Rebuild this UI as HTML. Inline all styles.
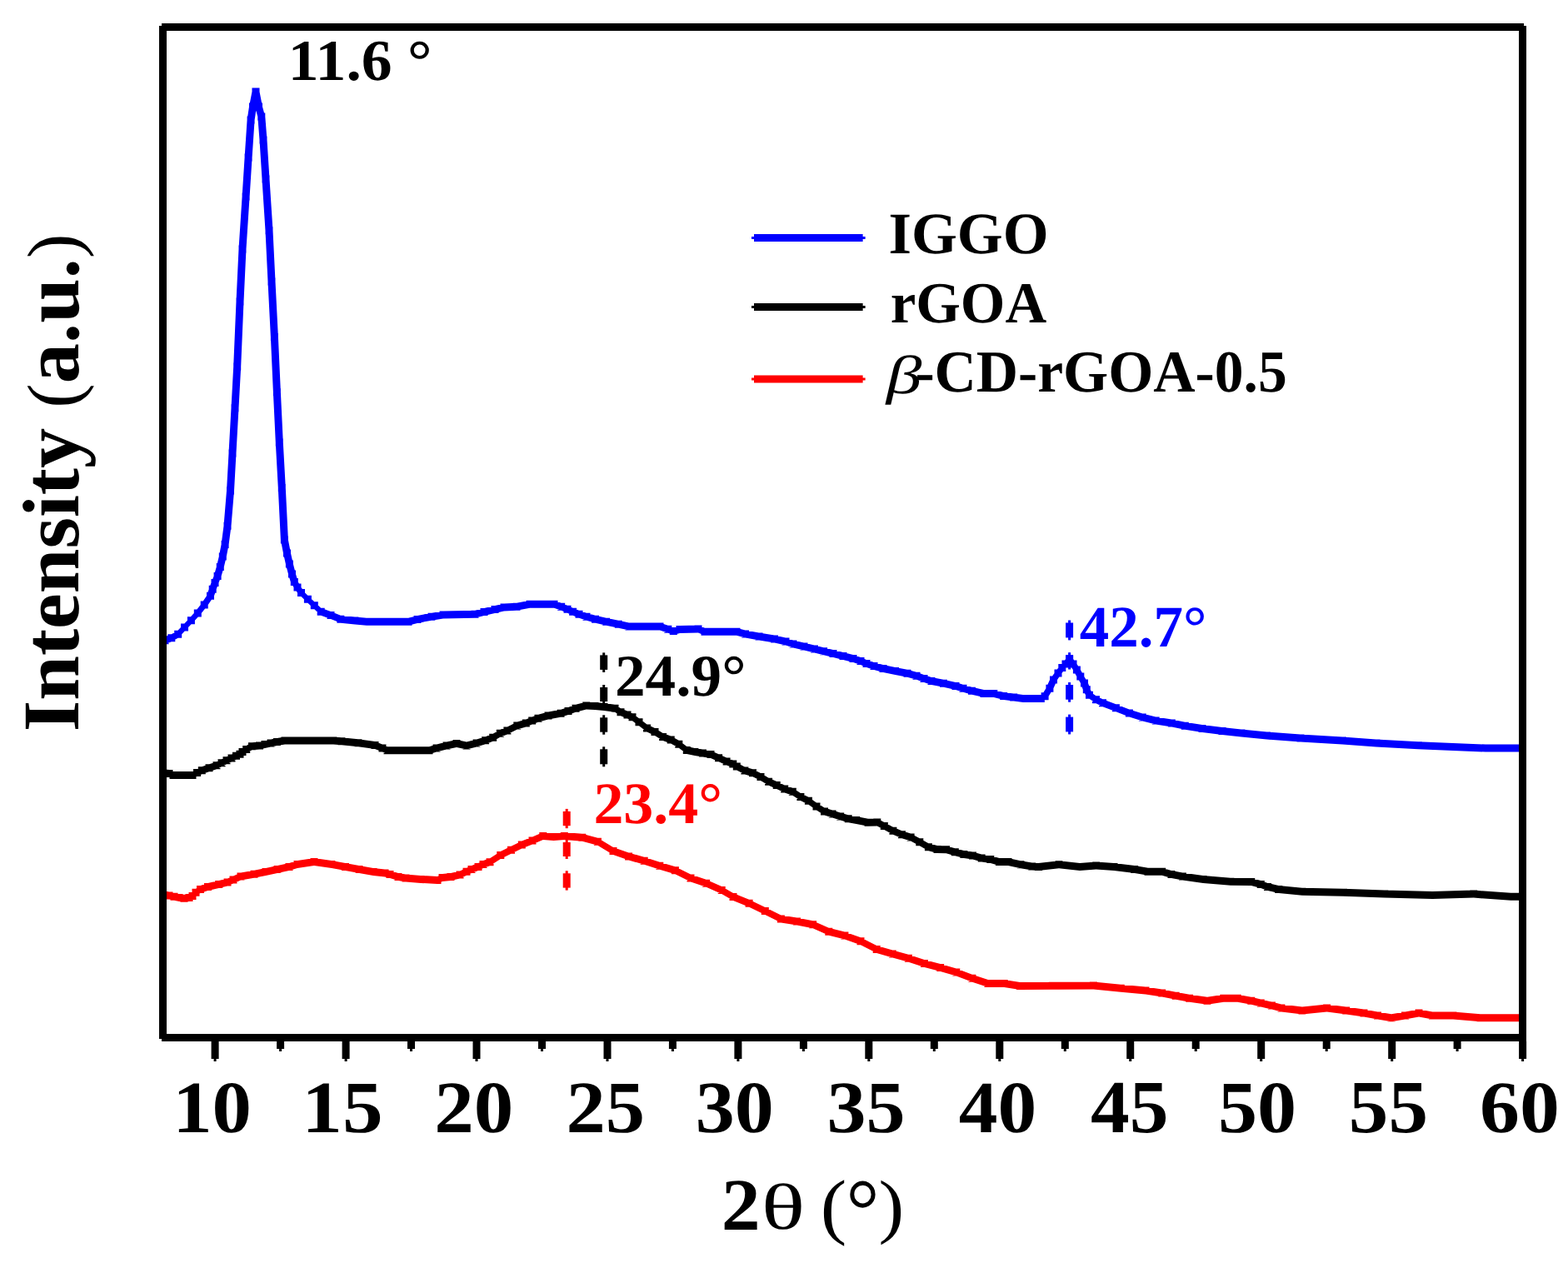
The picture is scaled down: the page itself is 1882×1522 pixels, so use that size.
<!DOCTYPE html>
<html><head><meta charset="utf-8"><style>
html,body{margin:0;padding:0;background:#fff;}
svg{display:block;}
text{font-family:"Liberation Serif","DejaVu Serif",serif;text-rendering:geometricPrecision;}
</style></head><body>
<svg width="1882" height="1522" viewBox="0 0 1882 1522">
<rect width="1882" height="1522" fill="#fff"/>
<path fill="#0000ff" d="M194.5 767.1L198.0 764.3L198.0 773.3L194.5 776.1ZM198.0 764.3L205.8 761.2L205.8 770.2L198.0 773.3ZM205.8 761.2L213.7 756.8L213.7 765.8L205.8 770.2ZM209.2 761.3L217.0 753.1L226.0 753.1L218.2 761.3ZM217.0 753.1L224.9 744.8L233.9 744.8L226.0 753.1ZM224.9 744.8L232.8 736.1L241.8 736.1L233.9 744.8ZM232.8 736.1L240.7 725.9L249.7 725.9L241.8 736.1ZM240.7 725.9L248.0 715.2L257.0 715.2L249.7 725.9ZM248.0 715.2L250.7 707.3L259.7 707.3L257.0 715.2ZM250.7 707.3L253.5 699.4L262.5 699.4L259.7 707.3ZM253.5 699.4L256.6 691.5L265.6 691.5L262.5 699.4ZM256.6 691.5L259.8 680.5L268.8 680.5L265.6 691.5ZM259.8 680.5L262.8 667.9L271.8 667.9L268.8 680.5ZM262.8 667.9L265.6 653.5L274.6 653.5L271.8 667.9ZM265.6 653.5L268.5 631.2L277.5 631.2L274.6 653.5ZM268.5 631.2L272.0 589.0L281.0 589.0L277.5 631.2ZM272.0 589.0L274.5 544.0L283.5 544.0L281.0 589.0ZM274.5 544.0L277.5 489.7L286.5 489.7L283.5 544.0ZM277.5 489.7L280.2 440.0L289.2 440.0L286.5 489.7ZM280.2 440.0L283.5 362.0L292.5 362.0L289.2 440.0ZM283.5 362.0L286.5 299.0L295.5 299.0L292.5 362.0ZM286.5 299.0L290.6 236.0L299.6 236.0L295.5 299.0ZM290.6 236.0L293.6 189.0L302.6 189.0L299.6 236.0ZM293.6 189.0L296.6 144.0L305.6 144.0L302.6 189.0ZM296.6 144.0L299.0 128.0L308.0 128.0L305.6 144.0ZM299.0 128.0L302.5 110.0L311.5 110.0L308.0 128.0ZM311.5 110.0L315.0 128.0L306.0 128.0L302.5 110.0ZM315.0 128.0L318.3 140.0L309.3 140.0L306.0 128.0ZM318.3 140.0L320.5 168.0L311.5 168.0L309.3 140.0ZM320.5 168.0L323.5 215.0L314.5 215.0L311.5 168.0ZM323.5 215.0L327.5 276.8L318.5 276.8L314.5 215.0ZM327.5 276.8L330.5 338.0L321.5 338.0L318.5 276.8ZM330.5 338.0L333.9 404.5L324.9 404.5L321.5 338.0ZM333.9 404.5L336.9 470.7L327.9 470.7L324.9 404.5ZM336.9 470.7L339.8 531.0L330.8 531.0L327.9 470.7ZM339.8 531.0L342.8 585.4L333.8 585.4L330.8 531.0ZM342.8 585.4L345.9 648.0L336.9 648.0L333.8 585.4ZM345.9 648.0L349.0 664.0L340.0 664.0L336.9 648.0ZM349.0 664.0L351.9 677.0L342.9 677.0L340.0 664.0ZM351.9 677.0L355.0 689.0L346.0 689.0L342.9 677.0ZM355.0 689.0L357.8 698.4L348.8 698.4L346.0 689.0ZM357.8 698.4L361.5 705.0L352.5 705.0L348.8 698.4ZM361.5 705.0L366.0 711.4L357.0 711.4L352.5 705.0ZM361.5 706.9L369.4 714.8L369.4 723.8L361.5 715.9ZM369.4 714.8L377.3 722.2L377.3 731.2L369.4 723.8ZM377.3 722.2L385.2 729.7L385.2 738.7L377.3 731.2ZM385.2 729.7L397.0 734.1L397.0 743.1L385.2 738.7ZM397.0 734.1L408.9 738.8L408.9 747.8L397.0 743.1ZM408.9 738.8L426.0 740.5L426.0 749.5L408.9 747.8ZM426.0 740.5L440.0 741.7L440.0 750.7L426.0 749.5ZM440.0 741.7L490.0 741.7L490.0 750.7L440.0 750.7ZM490.0 741.7L501.0 738.9L501.0 747.9L490.0 750.7ZM501.0 738.9L518.0 735.8L518.0 744.8L501.0 747.9ZM518.0 735.8L532.0 733.5L532.0 742.5L518.0 744.8ZM532.0 733.5L570.0 732.8L570.0 741.8L532.0 742.5ZM570.0 732.8L581.0 730.0L581.0 739.0L570.0 741.8ZM581.0 730.0L594.0 727.0L594.0 736.0L581.0 739.0ZM594.0 727.0L605.0 724.5L605.0 733.5L594.0 736.0ZM605.0 724.5L620.0 723.7L620.0 732.7L605.0 733.5ZM620.0 723.7L636.0 720.8L636.0 729.8L620.0 732.7ZM636.0 720.8L665.0 720.8L665.0 729.8L636.0 729.8ZM665.0 720.8L673.7 723.7L673.7 732.7L665.0 729.8ZM673.7 723.7L681.0 726.8L681.0 735.8L673.7 732.7ZM681.0 726.8L687.6 729.8L687.6 738.8L681.0 735.8ZM687.6 729.8L695.0 732.7L695.0 741.7L687.6 738.8ZM695.0 732.7L704.0 735.8L704.0 744.8L695.0 741.7ZM704.0 735.8L714.6 738.8L714.6 747.8L704.0 744.8ZM714.6 738.8L727.7 741.7L727.7 750.7L714.6 747.8ZM727.7 741.7L742.3 744.7L742.3 753.7L727.7 750.7ZM742.3 744.7L755.0 747.6L755.0 756.6L742.3 753.7ZM755.0 747.6L792.0 747.6L792.0 756.6L755.0 756.6ZM792.0 747.6L801.8 750.7L801.8 759.7L792.0 756.6ZM801.8 750.7L808.3 753.0L808.3 762.0L801.8 759.7ZM808.3 753.0L816.0 751.0L816.0 760.0L808.3 762.0ZM816.0 751.0L838.0 750.6L838.0 759.6L816.0 760.0ZM838.0 750.6L846.0 753.7L846.0 762.7L838.0 759.6ZM846.0 753.7L884.0 753.7L884.0 762.7L846.0 762.7ZM884.0 753.7L894.6 756.6L894.6 765.6L884.0 762.7ZM894.6 756.6L911.0 759.5L911.0 768.5L894.6 765.6ZM911.0 759.5L929.6 762.4L929.6 771.4L911.0 768.5ZM929.6 762.4L943.0 765.5L943.0 774.5L929.6 771.4ZM943.0 765.5L952.0 768.4L952.0 777.4L943.0 774.5ZM952.0 768.4L965.0 771.5L965.0 780.5L952.0 777.4ZM965.0 771.5L977.5 774.4L977.5 783.4L965.0 780.5ZM977.5 774.4L988.6 777.3L988.6 786.3L977.5 783.4ZM988.6 777.3L1000.0 780.1L1000.0 789.1L988.6 786.3ZM1000.0 780.1L1012.0 783.1L1012.0 792.1L1000.0 789.1ZM1012.0 783.1L1024.0 786.0L1024.0 795.0L1012.0 792.1ZM1024.0 786.0L1033.0 789.1L1033.0 798.1L1024.0 795.0ZM1033.0 789.1L1040.0 792.1L1040.0 801.1L1033.0 798.1ZM1040.0 792.1L1049.0 795.0L1049.0 804.0L1040.0 801.1ZM1049.0 795.0L1060.0 798.0L1060.0 807.0L1049.0 804.0ZM1060.0 798.0L1074.5 800.9L1074.5 809.9L1060.0 807.0ZM1074.5 800.9L1089.0 803.8L1089.0 812.8L1074.5 809.9ZM1089.0 803.8L1100.0 806.8L1100.0 815.8L1089.0 812.8ZM1100.0 806.8L1109.0 809.9L1109.0 818.9L1100.0 815.8ZM1109.0 809.9L1118.0 812.9L1118.0 821.9L1109.0 818.9ZM1118.0 812.9L1132.5 815.8L1132.5 824.8L1118.0 821.9ZM1132.5 815.8L1147.0 818.9L1147.0 827.9L1132.5 824.8ZM1147.0 818.9L1156.0 821.7L1156.0 830.7L1147.0 827.9ZM1156.0 821.7L1166.5 824.8L1166.5 833.8L1156.0 830.7ZM1166.5 824.8L1181.0 827.9L1181.0 836.9L1166.5 833.8ZM1181.0 827.9L1192.8 828.1L1192.8 837.1L1181.0 836.9ZM1192.8 828.1L1204.7 830.9L1204.7 839.9L1192.8 837.1ZM1204.7 830.9L1216.7 832.5L1216.7 841.5L1204.7 839.9ZM1216.7 832.5L1228.0 834.1L1228.0 843.1L1216.7 841.5ZM1228.0 834.1L1249.3 834.1L1249.3 843.1L1228.0 843.1ZM1249.3 834.1L1254.1 831.3L1254.1 840.3L1249.3 843.1ZM1249.6 835.8L1255.4 826.2L1264.4 826.2L1258.6 835.8ZM1255.4 826.2L1260.0 815.9L1269.0 815.9L1264.4 826.2ZM1260.0 815.9L1265.5 807.9L1274.5 807.9L1269.0 815.9ZM1265.5 807.9L1270.3 801.5L1279.3 801.5L1274.5 807.9ZM1270.3 801.5L1274.5 797.0L1283.5 797.0L1279.3 801.5ZM1274.5 797.0L1279.1 791.0L1288.1 791.0L1283.5 797.0ZM1288.1 791.0L1292.5 797.0L1283.5 797.0L1279.1 791.0ZM1292.5 797.0L1296.9 803.9L1287.9 803.9L1283.5 797.0ZM1296.9 803.9L1301.3 811.9L1292.3 811.9L1287.9 803.9ZM1301.3 811.9L1306.0 819.9L1297.0 819.9L1292.3 811.9ZM1306.0 819.9L1308.8 827.8L1299.8 827.8L1297.0 819.9ZM1308.8 827.8L1312.0 834.2L1303.0 834.2L1299.8 827.8ZM1307.5 829.7L1315.5 835.3L1315.5 844.3L1307.5 838.7ZM1315.5 835.3L1323.5 839.3L1323.5 848.3L1315.5 844.3ZM1323.5 839.3L1339.4 845.2L1339.4 854.2L1323.5 848.3ZM1339.4 845.2L1355.4 851.5L1355.4 860.5L1339.4 854.2ZM1355.4 851.5L1371.3 856.4L1371.3 865.4L1355.4 860.5ZM1371.3 856.4L1387.2 860.4L1387.2 869.4L1371.3 865.4ZM1387.2 860.4L1406.4 863.5L1406.4 872.5L1387.2 869.4ZM1406.4 863.5L1422.3 866.7L1422.3 875.7L1406.4 872.5ZM1422.3 866.7L1443.0 869.9L1443.0 878.9L1422.3 875.7ZM1443.0 869.9L1467.0 873.1L1467.0 882.1L1443.0 878.9ZM1467.0 873.1L1490.0 875.5L1490.0 884.5L1467.0 882.1ZM1490.0 875.5L1520.6 878.5L1520.6 887.5L1490.0 884.5ZM1520.6 878.5L1561.0 881.6L1561.0 890.6L1520.6 887.5ZM1561.0 881.6L1611.4 884.4L1611.4 893.4L1561.0 890.6ZM1611.4 884.4L1651.8 887.5L1651.8 896.5L1611.4 893.4ZM1651.8 887.5L1702.3 890.3L1702.3 899.3L1651.8 896.5ZM1702.3 890.3L1783.0 893.5L1783.0 902.5L1702.3 899.3ZM1783.0 893.5L1828.5 893.5L1828.5 902.5L1783.0 902.5ZM193.5 764.3L202.5 764.3L202.5 773.3L193.5 773.3ZM201.3 761.2L210.3 761.2L210.3 770.2L201.3 770.2ZM209.2 756.8L218.2 756.8L218.2 765.8L209.2 765.8ZM217.0 748.6L226.0 748.6L226.0 757.6L217.0 757.6ZM224.9 740.3L233.9 740.3L233.9 749.3L224.9 749.3ZM232.8 731.6L241.8 731.6L241.8 740.6L232.8 740.6ZM240.7 721.4L249.7 721.4L249.7 730.4L240.7 730.4ZM248.0 710.7L257.0 710.7L257.0 719.7L248.0 719.7ZM250.7 702.8L259.7 702.8L259.7 711.8L250.7 711.8ZM253.5 694.9L262.5 694.9L262.5 703.9L253.5 703.9ZM256.6 687.0L265.6 687.0L265.6 696.0L256.6 696.0ZM259.8 676.0L268.8 676.0L268.8 685.0L259.8 685.0ZM262.8 663.4L271.8 663.4L271.8 672.4L262.8 672.4ZM265.6 649.0L274.6 649.0L274.6 658.0L265.6 658.0ZM268.5 626.7L277.5 626.7L277.5 635.7L268.5 635.7ZM272.0 584.5L281.0 584.5L281.0 593.5L272.0 593.5ZM274.5 539.5L283.5 539.5L283.5 548.5L274.5 548.5ZM277.5 485.2L286.5 485.2L286.5 494.2L277.5 494.2ZM280.2 435.5L289.2 435.5L289.2 444.5L280.2 444.5ZM283.5 357.5L292.5 357.5L292.5 366.5L283.5 366.5ZM286.5 294.5L295.5 294.5L295.5 303.5L286.5 303.5ZM290.6 231.5L299.6 231.5L299.6 240.5L290.6 240.5ZM293.6 184.5L302.6 184.5L302.6 193.5L293.6 193.5ZM296.6 139.5L305.6 139.5L305.6 148.5L296.6 148.5ZM299.0 123.5L308.0 123.5L308.0 132.5L299.0 132.5ZM302.5 105.5L311.5 105.5L311.5 114.5L302.5 114.5ZM306.0 123.5L315.0 123.5L315.0 132.5L306.0 132.5ZM309.3 135.5L318.3 135.5L318.3 144.5L309.3 144.5ZM311.5 163.5L320.5 163.5L320.5 172.5L311.5 172.5ZM314.5 210.5L323.5 210.5L323.5 219.5L314.5 219.5ZM318.5 272.3L327.5 272.3L327.5 281.3L318.5 281.3ZM321.5 333.5L330.5 333.5L330.5 342.5L321.5 342.5ZM324.9 400.0L333.9 400.0L333.9 409.0L324.9 409.0ZM327.9 466.2L336.9 466.2L336.9 475.2L327.9 475.2ZM330.8 526.5L339.8 526.5L339.8 535.5L330.8 535.5ZM333.8 580.9L342.8 580.9L342.8 589.9L333.8 589.9ZM336.9 643.5L345.9 643.5L345.9 652.5L336.9 652.5ZM340.0 659.5L349.0 659.5L349.0 668.5L340.0 668.5ZM342.9 672.5L351.9 672.5L351.9 681.5L342.9 681.5ZM346.0 684.5L355.0 684.5L355.0 693.5L346.0 693.5ZM348.8 693.9L357.8 693.9L357.8 702.9L348.8 702.9ZM352.5 700.5L361.5 700.5L361.5 709.5L352.5 709.5ZM357.0 706.9L366.0 706.9L366.0 715.9L357.0 715.9ZM364.9 714.8L373.9 714.8L373.9 723.8L364.9 723.8ZM372.8 722.2L381.8 722.2L381.8 731.2L372.8 731.2ZM380.7 729.7L389.7 729.7L389.7 738.7L380.7 738.7ZM392.5 734.1L401.5 734.1L401.5 743.1L392.5 743.1ZM404.4 738.8L413.4 738.8L413.4 747.8L404.4 747.8ZM421.5 740.5L430.5 740.5L430.5 749.5L421.5 749.5ZM435.5 741.7L444.5 741.7L444.5 750.7L435.5 750.7ZM485.5 741.7L494.5 741.7L494.5 750.7L485.5 750.7ZM496.5 738.9L505.5 738.9L505.5 747.9L496.5 747.9ZM513.5 735.8L522.5 735.8L522.5 744.8L513.5 744.8ZM527.5 733.5L536.5 733.5L536.5 742.5L527.5 742.5ZM565.5 732.8L574.5 732.8L574.5 741.8L565.5 741.8ZM576.5 730.0L585.5 730.0L585.5 739.0L576.5 739.0ZM589.5 727.0L598.5 727.0L598.5 736.0L589.5 736.0ZM600.5 724.5L609.5 724.5L609.5 733.5L600.5 733.5ZM615.5 723.7L624.5 723.7L624.5 732.7L615.5 732.7ZM631.5 720.8L640.5 720.8L640.5 729.8L631.5 729.8ZM660.5 720.8L669.5 720.8L669.5 729.8L660.5 729.8ZM669.2 723.7L678.2 723.7L678.2 732.7L669.2 732.7ZM676.5 726.8L685.5 726.8L685.5 735.8L676.5 735.8ZM683.1 729.8L692.1 729.8L692.1 738.8L683.1 738.8ZM690.5 732.7L699.5 732.7L699.5 741.7L690.5 741.7ZM699.5 735.8L708.5 735.8L708.5 744.8L699.5 744.8ZM710.1 738.8L719.1 738.8L719.1 747.8L710.1 747.8ZM723.2 741.7L732.2 741.7L732.2 750.7L723.2 750.7ZM737.8 744.7L746.8 744.7L746.8 753.7L737.8 753.7ZM750.5 747.6L759.5 747.6L759.5 756.6L750.5 756.6ZM787.5 747.6L796.5 747.6L796.5 756.6L787.5 756.6ZM797.3 750.7L806.3 750.7L806.3 759.7L797.3 759.7ZM803.8 753.0L812.8 753.0L812.8 762.0L803.8 762.0ZM811.5 751.0L820.5 751.0L820.5 760.0L811.5 760.0ZM833.5 750.6L842.5 750.6L842.5 759.6L833.5 759.6ZM841.5 753.7L850.5 753.7L850.5 762.7L841.5 762.7ZM879.5 753.7L888.5 753.7L888.5 762.7L879.5 762.7ZM890.1 756.6L899.1 756.6L899.1 765.6L890.1 765.6ZM906.5 759.5L915.5 759.5L915.5 768.5L906.5 768.5ZM925.1 762.4L934.1 762.4L934.1 771.4L925.1 771.4ZM938.5 765.5L947.5 765.5L947.5 774.5L938.5 774.5ZM947.5 768.4L956.5 768.4L956.5 777.4L947.5 777.4ZM960.5 771.5L969.5 771.5L969.5 780.5L960.5 780.5ZM973.0 774.4L982.0 774.4L982.0 783.4L973.0 783.4ZM984.1 777.3L993.1 777.3L993.1 786.3L984.1 786.3ZM995.5 780.1L1004.5 780.1L1004.5 789.1L995.5 789.1ZM1007.5 783.1L1016.5 783.1L1016.5 792.1L1007.5 792.1ZM1019.5 786.0L1028.5 786.0L1028.5 795.0L1019.5 795.0ZM1028.5 789.1L1037.5 789.1L1037.5 798.1L1028.5 798.1ZM1035.5 792.1L1044.5 792.1L1044.5 801.1L1035.5 801.1ZM1044.5 795.0L1053.5 795.0L1053.5 804.0L1044.5 804.0ZM1055.5 798.0L1064.5 798.0L1064.5 807.0L1055.5 807.0ZM1070.0 800.9L1079.0 800.9L1079.0 809.9L1070.0 809.9ZM1084.5 803.8L1093.5 803.8L1093.5 812.8L1084.5 812.8ZM1095.5 806.8L1104.5 806.8L1104.5 815.8L1095.5 815.8ZM1104.5 809.9L1113.5 809.9L1113.5 818.9L1104.5 818.9ZM1113.5 812.9L1122.5 812.9L1122.5 821.9L1113.5 821.9ZM1128.0 815.8L1137.0 815.8L1137.0 824.8L1128.0 824.8ZM1142.5 818.9L1151.5 818.9L1151.5 827.9L1142.5 827.9ZM1151.5 821.7L1160.5 821.7L1160.5 830.7L1151.5 830.7ZM1162.0 824.8L1171.0 824.8L1171.0 833.8L1162.0 833.8ZM1176.5 827.9L1185.5 827.9L1185.5 836.9L1176.5 836.9ZM1188.3 828.1L1197.3 828.1L1197.3 837.1L1188.3 837.1ZM1200.2 830.9L1209.2 830.9L1209.2 839.9L1200.2 839.9ZM1212.2 832.5L1221.2 832.5L1221.2 841.5L1212.2 841.5ZM1223.5 834.1L1232.5 834.1L1232.5 843.1L1223.5 843.1ZM1244.8 834.1L1253.8 834.1L1253.8 843.1L1244.8 843.1ZM1249.6 831.3L1258.6 831.3L1258.6 840.3L1249.6 840.3ZM1255.4 821.7L1264.4 821.7L1264.4 830.7L1255.4 830.7ZM1260.0 811.4L1269.0 811.4L1269.0 820.4L1260.0 820.4ZM1265.5 803.4L1274.5 803.4L1274.5 812.4L1265.5 812.4ZM1270.3 797.0L1279.3 797.0L1279.3 806.0L1270.3 806.0ZM1274.5 792.5L1283.5 792.5L1283.5 801.5L1274.5 801.5ZM1279.1 786.5L1288.1 786.5L1288.1 795.5L1279.1 795.5ZM1283.5 792.5L1292.5 792.5L1292.5 801.5L1283.5 801.5ZM1287.9 799.4L1296.9 799.4L1296.9 808.4L1287.9 808.4ZM1292.3 807.4L1301.3 807.4L1301.3 816.4L1292.3 816.4ZM1297.0 815.4L1306.0 815.4L1306.0 824.4L1297.0 824.4ZM1299.8 823.3L1308.8 823.3L1308.8 832.3L1299.8 832.3ZM1303.0 829.7L1312.0 829.7L1312.0 838.7L1303.0 838.7ZM1311.0 835.3L1320.0 835.3L1320.0 844.3L1311.0 844.3ZM1319.0 839.3L1328.0 839.3L1328.0 848.3L1319.0 848.3ZM1334.9 845.2L1343.9 845.2L1343.9 854.2L1334.9 854.2ZM1350.9 851.5L1359.9 851.5L1359.9 860.5L1350.9 860.5ZM1366.8 856.4L1375.8 856.4L1375.8 865.4L1366.8 865.4ZM1382.7 860.4L1391.7 860.4L1391.7 869.4L1382.7 869.4ZM1401.9 863.5L1410.9 863.5L1410.9 872.5L1401.9 872.5ZM1417.8 866.7L1426.8 866.7L1426.8 875.7L1417.8 875.7ZM1438.5 869.9L1447.5 869.9L1447.5 878.9L1438.5 878.9ZM1462.5 873.1L1471.5 873.1L1471.5 882.1L1462.5 882.1ZM1485.5 875.5L1494.5 875.5L1494.5 884.5L1485.5 884.5ZM1516.1 878.5L1525.1 878.5L1525.1 887.5L1516.1 887.5ZM1556.5 881.6L1565.5 881.6L1565.5 890.6L1556.5 890.6ZM1606.9 884.4L1615.9 884.4L1615.9 893.4L1606.9 893.4ZM1647.3 887.5L1656.3 887.5L1656.3 896.5L1647.3 896.5ZM1697.8 890.3L1706.8 890.3L1706.8 899.3L1697.8 899.3ZM1778.5 893.5L1787.5 893.5L1787.5 902.5L1778.5 902.5Z"/>
<path fill="#000" d="M195.0 923.0L203.0 924.0L203.0 933.0L195.0 932.0ZM203.0 924.0L208.0 926.0L208.0 935.0L203.0 933.0ZM208.0 926.0L231.0 926.0L231.0 935.0L208.0 935.0ZM231.0 926.0L236.5 923.0L236.5 932.0L231.0 935.0ZM236.5 923.0L242.3 920.2L242.3 929.2L236.5 932.0ZM242.3 920.2L251.0 917.3L251.0 926.3L242.3 929.2ZM251.0 917.3L260.0 914.3L260.0 923.3L251.0 926.3ZM260.0 914.3L266.0 911.3L266.0 920.3L260.0 923.3ZM266.0 911.3L272.0 908.3L272.0 917.3L266.0 920.3ZM272.0 908.3L278.0 905.4L278.0 914.4L272.0 917.3ZM278.0 905.4L283.5 902.8L283.5 911.8L278.0 914.4ZM283.5 902.8L288.0 900.7L288.0 909.7L283.5 911.8ZM288.0 900.7L291.0 897.9L291.0 906.9L288.0 909.7ZM291.0 897.9L295.7 894.9L295.7 903.9L291.0 906.9ZM295.7 894.9L302.5 891.3L302.5 900.3L295.7 903.9ZM302.5 891.3L311.5 890.5L311.5 899.5L302.5 900.3ZM311.5 890.5L318.0 889.0L318.0 898.0L311.5 899.5ZM318.0 889.0L325.0 887.5L325.0 896.5L318.0 898.0ZM325.0 887.5L332.5 886.0L332.5 895.0L325.0 896.5ZM332.5 886.0L342.0 884.5L342.0 893.5L332.5 895.0ZM342.0 884.5L360.0 884.4L360.0 893.4L342.0 893.5ZM360.0 884.4L400.0 884.4L400.0 893.4L360.0 893.4ZM400.0 884.4L410.0 885.3L410.0 894.3L400.0 893.4ZM410.0 885.3L430.0 887.2L430.0 896.2L410.0 894.3ZM430.0 887.2L450.0 890.1L450.0 899.1L430.0 896.2ZM450.0 890.1L459.0 893.5L459.0 902.5L450.0 899.1ZM459.0 893.5L465.0 896.3L465.0 905.3L459.0 902.5ZM465.0 896.3L515.0 896.3L515.0 905.3L465.0 905.3ZM515.0 896.3L524.0 893.5L524.0 902.5L515.0 905.3ZM524.0 893.5L536.0 890.5L536.0 899.5L524.0 902.5ZM536.0 890.5L548.0 887.9L548.0 896.9L536.0 899.5ZM548.0 887.9L560.0 890.5L560.0 899.5L548.0 896.9ZM560.0 890.5L572.0 887.5L572.0 896.5L560.0 899.5ZM572.0 887.5L582.6 884.2L582.6 893.2L572.0 896.5ZM582.6 884.2L591.7 880.7L591.7 889.7L582.6 893.2ZM591.7 880.7L600.3 875.7L600.3 884.7L591.7 889.7ZM600.3 875.7L608.9 872.5L608.9 881.5L600.3 884.7ZM608.9 872.5L620.8 866.5L620.8 875.5L608.9 881.5ZM620.8 866.5L631.3 863.5L631.3 872.5L620.8 875.5ZM631.3 863.5L638.7 860.6L638.7 869.6L631.3 872.5ZM638.7 860.6L646.0 857.8L646.0 866.8L638.7 869.6ZM646.0 857.8L658.0 854.6L658.0 863.6L646.0 866.8ZM658.0 854.6L673.0 851.7L673.0 860.7L658.0 863.6ZM673.0 851.7L682.0 848.9L682.0 857.9L673.0 860.7ZM682.0 848.9L691.0 845.8L691.0 854.8L682.0 857.9ZM691.0 845.8L703.7 842.6L703.7 851.6L691.0 854.8ZM703.7 842.6L714.0 842.9L714.0 851.9L703.7 851.6ZM714.0 842.9L725.0 844.0L725.0 853.0L714.0 851.9ZM725.0 844.0L738.0 845.8L738.0 854.8L725.0 853.0ZM738.0 845.8L745.0 850.3L745.0 859.3L738.0 854.8ZM745.0 850.3L753.0 853.5L753.0 862.5L745.0 859.3ZM753.0 853.5L759.0 856.3L759.0 865.3L753.0 862.5ZM759.0 856.3L767.0 862.3L767.0 871.3L759.0 865.3ZM767.0 862.3L776.5 869.5L776.5 878.5L767.0 871.3ZM776.5 869.5L786.0 874.0L786.0 883.0L776.5 878.5ZM786.0 874.0L795.6 879.9L795.6 888.9L786.0 883.0ZM795.6 879.9L805.2 883.5L805.2 892.5L795.6 888.9ZM805.2 883.5L814.8 888.8L814.8 897.8L805.2 892.5ZM814.8 888.8L824.3 896.0L824.3 905.0L814.8 897.8ZM824.3 896.0L833.9 897.9L833.9 906.9L824.3 905.0ZM833.9 897.9L843.5 899.4L843.5 908.4L833.9 906.9ZM843.5 899.4L853.0 901.0L853.0 910.0L843.5 908.4ZM853.0 901.0L862.6 905.3L862.6 914.3L853.0 910.0ZM862.6 905.3L872.1 909.6L872.1 918.6L862.6 914.3ZM872.1 909.6L879.8 912.5L879.8 921.5L872.1 918.6ZM879.8 912.5L884.3 915.5L884.3 924.5L879.8 921.5ZM884.3 915.5L893.9 920.4L893.9 929.4L884.3 924.5ZM893.9 920.4L903.5 923.2L903.5 932.2L893.9 929.4ZM903.5 923.2L913.0 928.0L913.0 937.0L903.5 932.2ZM913.0 928.0L922.6 933.8L922.6 942.8L913.0 937.0ZM922.6 933.8L932.2 938.1L932.2 947.1L922.6 942.8ZM932.2 938.1L941.7 942.4L941.7 951.4L932.2 947.1ZM941.7 942.4L951.3 945.7L951.3 954.7L941.7 951.4ZM951.3 945.7L960.9 951.9L960.9 960.9L951.3 954.7ZM960.9 951.9L970.4 956.7L970.4 965.7L960.9 960.9ZM970.4 956.7L980.0 963.4L980.0 972.4L970.4 965.7ZM980.0 963.4L989.5 969.6L989.5 978.6L980.0 972.4ZM989.5 969.6L999.1 972.5L999.1 981.5L989.5 978.6ZM999.1 972.5L1008.7 975.4L1008.7 984.4L999.1 981.5ZM1008.7 975.4L1018.2 978.2L1018.2 987.2L1008.7 984.4ZM1018.2 978.2L1027.8 979.9L1027.8 988.9L1018.2 987.2ZM1027.8 979.9L1042.0 982.7L1042.0 991.7L1027.8 988.9ZM1042.0 982.7L1052.8 982.4L1052.8 991.4L1042.0 991.7ZM1052.8 982.4L1061.3 987.0L1061.3 996.0L1052.8 991.4ZM1061.3 987.0L1071.9 992.8L1071.9 1001.8L1061.3 996.0ZM1071.9 992.8L1082.5 997.3L1082.5 1006.3L1071.9 1001.8ZM1082.5 997.3L1093.1 1000.5L1093.1 1009.5L1082.5 1006.3ZM1093.1 1000.5L1103.8 1006.3L1103.8 1015.3L1093.1 1009.5ZM1103.8 1006.3L1114.4 1012.2L1114.4 1021.2L1103.8 1015.3ZM1114.4 1012.2L1125.0 1015.1L1125.0 1024.1L1114.4 1021.2ZM1125.0 1015.1L1135.6 1015.3L1135.6 1024.3L1125.0 1024.1ZM1135.6 1015.3L1146.3 1018.3L1146.3 1027.3L1135.6 1024.3ZM1146.3 1018.3L1156.9 1021.0L1156.9 1030.0L1146.3 1027.3ZM1156.9 1021.0L1167.5 1022.5L1167.5 1031.5L1156.9 1030.0ZM1167.5 1022.5L1178.2 1025.5L1178.2 1034.5L1167.5 1031.5ZM1178.2 1025.5L1188.8 1027.0L1188.8 1036.0L1178.2 1034.5ZM1188.8 1027.0L1199.4 1030.0L1199.4 1039.0L1188.8 1036.0ZM1199.4 1030.0L1210.0 1030.0L1210.0 1039.0L1199.4 1039.0ZM1210.0 1030.0L1225.0 1033.2L1225.0 1042.2L1210.0 1039.0ZM1225.0 1033.2L1238.7 1035.5L1238.7 1044.5L1225.0 1042.2ZM1238.7 1035.5L1246.5 1035.9L1246.5 1044.9L1238.7 1044.5ZM1246.5 1035.9L1271.0 1033.3L1271.0 1042.3L1246.5 1044.9ZM1271.0 1033.3L1296.0 1035.9L1296.0 1044.9L1271.0 1042.3ZM1296.0 1035.9L1315.6 1034.5L1315.6 1043.5L1296.0 1044.9ZM1315.6 1034.5L1337.0 1035.9L1337.0 1044.9L1315.6 1043.5ZM1337.0 1035.9L1361.8 1039.0L1361.8 1048.0L1337.0 1044.9ZM1361.8 1039.0L1378.0 1041.8L1378.0 1050.8L1361.8 1048.0ZM1378.0 1041.8L1394.7 1041.8L1394.7 1050.8L1378.0 1050.8ZM1394.7 1041.8L1406.0 1045.1L1406.0 1054.1L1394.7 1050.8ZM1406.0 1045.1L1419.4 1047.5L1419.4 1056.5L1406.0 1054.1ZM1419.4 1047.5L1444.0 1050.9L1444.0 1059.9L1419.4 1056.5ZM1444.0 1050.9L1477.0 1053.7L1477.0 1062.7L1444.0 1059.9ZM1477.0 1053.7L1501.8 1054.1L1501.8 1063.1L1477.0 1062.7ZM1501.8 1054.1L1513.3 1057.1L1513.3 1066.1L1501.8 1063.1ZM1513.3 1057.1L1521.5 1059.9L1521.5 1068.9L1513.3 1066.1ZM1521.5 1059.9L1534.7 1062.9L1534.7 1071.9L1521.5 1068.9ZM1534.7 1062.9L1563.0 1065.8L1563.0 1074.8L1534.7 1071.9ZM1563.0 1065.8L1612.4 1066.8L1612.4 1075.8L1563.0 1074.8ZM1612.4 1066.8L1661.8 1068.6L1661.8 1077.6L1612.4 1075.8ZM1661.8 1068.6L1719.4 1070.1L1719.4 1079.1L1661.8 1077.6ZM1719.4 1070.1L1768.8 1068.6L1768.8 1077.6L1719.4 1079.1ZM1768.8 1068.6L1813.3 1071.7L1813.3 1080.7L1768.8 1077.6ZM1813.3 1071.7L1829.0 1071.7L1829.0 1080.7L1813.3 1080.7ZM198.5 924.0L207.5 924.0L207.5 933.0L198.5 933.0ZM203.5 926.0L212.5 926.0L212.5 935.0L203.5 935.0ZM226.5 926.0L235.5 926.0L235.5 935.0L226.5 935.0ZM232.0 923.0L241.0 923.0L241.0 932.0L232.0 932.0ZM237.8 920.2L246.8 920.2L246.8 929.2L237.8 929.2ZM246.5 917.3L255.5 917.3L255.5 926.3L246.5 926.3ZM255.5 914.3L264.5 914.3L264.5 923.3L255.5 923.3ZM261.5 911.3L270.5 911.3L270.5 920.3L261.5 920.3ZM267.5 908.3L276.5 908.3L276.5 917.3L267.5 917.3ZM273.5 905.4L282.5 905.4L282.5 914.4L273.5 914.4ZM279.0 902.8L288.0 902.8L288.0 911.8L279.0 911.8ZM283.5 900.7L292.5 900.7L292.5 909.7L283.5 909.7ZM286.5 897.9L295.5 897.9L295.5 906.9L286.5 906.9ZM291.2 894.9L300.2 894.9L300.2 903.9L291.2 903.9ZM298.0 891.3L307.0 891.3L307.0 900.3L298.0 900.3ZM307.0 890.5L316.0 890.5L316.0 899.5L307.0 899.5ZM313.5 889.0L322.5 889.0L322.5 898.0L313.5 898.0ZM320.5 887.5L329.5 887.5L329.5 896.5L320.5 896.5ZM328.0 886.0L337.0 886.0L337.0 895.0L328.0 895.0ZM337.5 884.5L346.5 884.5L346.5 893.5L337.5 893.5ZM355.5 884.4L364.5 884.4L364.5 893.4L355.5 893.4ZM395.5 884.4L404.5 884.4L404.5 893.4L395.5 893.4ZM405.5 885.3L414.5 885.3L414.5 894.3L405.5 894.3ZM425.5 887.2L434.5 887.2L434.5 896.2L425.5 896.2ZM445.5 890.1L454.5 890.1L454.5 899.1L445.5 899.1ZM454.5 893.5L463.5 893.5L463.5 902.5L454.5 902.5ZM460.5 896.3L469.5 896.3L469.5 905.3L460.5 905.3ZM510.5 896.3L519.5 896.3L519.5 905.3L510.5 905.3ZM519.5 893.5L528.5 893.5L528.5 902.5L519.5 902.5ZM531.5 890.5L540.5 890.5L540.5 899.5L531.5 899.5ZM543.5 887.9L552.5 887.9L552.5 896.9L543.5 896.9ZM555.5 890.5L564.5 890.5L564.5 899.5L555.5 899.5ZM567.5 887.5L576.5 887.5L576.5 896.5L567.5 896.5ZM578.1 884.2L587.1 884.2L587.1 893.2L578.1 893.2ZM587.2 880.7L596.2 880.7L596.2 889.7L587.2 889.7ZM595.8 875.7L604.8 875.7L604.8 884.7L595.8 884.7ZM604.4 872.5L613.4 872.5L613.4 881.5L604.4 881.5ZM616.3 866.5L625.3 866.5L625.3 875.5L616.3 875.5ZM626.8 863.5L635.8 863.5L635.8 872.5L626.8 872.5ZM634.2 860.6L643.2 860.6L643.2 869.6L634.2 869.6ZM641.5 857.8L650.5 857.8L650.5 866.8L641.5 866.8ZM653.5 854.6L662.5 854.6L662.5 863.6L653.5 863.6ZM668.5 851.7L677.5 851.7L677.5 860.7L668.5 860.7ZM677.5 848.9L686.5 848.9L686.5 857.9L677.5 857.9ZM686.5 845.8L695.5 845.8L695.5 854.8L686.5 854.8ZM699.2 842.6L708.2 842.6L708.2 851.6L699.2 851.6ZM709.5 842.9L718.5 842.9L718.5 851.9L709.5 851.9ZM720.5 844.0L729.5 844.0L729.5 853.0L720.5 853.0ZM733.5 845.8L742.5 845.8L742.5 854.8L733.5 854.8ZM740.5 850.3L749.5 850.3L749.5 859.3L740.5 859.3ZM748.5 853.5L757.5 853.5L757.5 862.5L748.5 862.5ZM754.5 856.3L763.5 856.3L763.5 865.3L754.5 865.3ZM762.5 862.3L771.5 862.3L771.5 871.3L762.5 871.3ZM772.0 869.5L781.0 869.5L781.0 878.5L772.0 878.5ZM781.5 874.0L790.5 874.0L790.5 883.0L781.5 883.0ZM791.1 879.9L800.1 879.9L800.1 888.9L791.1 888.9ZM800.7 883.5L809.7 883.5L809.7 892.5L800.7 892.5ZM810.3 888.8L819.3 888.8L819.3 897.8L810.3 897.8ZM819.8 896.0L828.8 896.0L828.8 905.0L819.8 905.0ZM829.4 897.9L838.4 897.9L838.4 906.9L829.4 906.9ZM839.0 899.4L848.0 899.4L848.0 908.4L839.0 908.4ZM848.5 901.0L857.5 901.0L857.5 910.0L848.5 910.0ZM858.1 905.3L867.1 905.3L867.1 914.3L858.1 914.3ZM867.6 909.6L876.6 909.6L876.6 918.6L867.6 918.6ZM875.3 912.5L884.3 912.5L884.3 921.5L875.3 921.5ZM879.8 915.5L888.8 915.5L888.8 924.5L879.8 924.5ZM889.4 920.4L898.4 920.4L898.4 929.4L889.4 929.4ZM899.0 923.2L908.0 923.2L908.0 932.2L899.0 932.2ZM908.5 928.0L917.5 928.0L917.5 937.0L908.5 937.0ZM918.1 933.8L927.1 933.8L927.1 942.8L918.1 942.8ZM927.7 938.1L936.7 938.1L936.7 947.1L927.7 947.1ZM937.2 942.4L946.2 942.4L946.2 951.4L937.2 951.4ZM946.8 945.7L955.8 945.7L955.8 954.7L946.8 954.7ZM956.4 951.9L965.4 951.9L965.4 960.9L956.4 960.9ZM965.9 956.7L974.9 956.7L974.9 965.7L965.9 965.7ZM975.5 963.4L984.5 963.4L984.5 972.4L975.5 972.4ZM985.0 969.6L994.0 969.6L994.0 978.6L985.0 978.6ZM994.6 972.5L1003.6 972.5L1003.6 981.5L994.6 981.5ZM1004.2 975.4L1013.2 975.4L1013.2 984.4L1004.2 984.4ZM1013.7 978.2L1022.7 978.2L1022.7 987.2L1013.7 987.2ZM1023.3 979.9L1032.3 979.9L1032.3 988.9L1023.3 988.9ZM1037.5 982.7L1046.5 982.7L1046.5 991.7L1037.5 991.7ZM1048.3 982.4L1057.3 982.4L1057.3 991.4L1048.3 991.4ZM1056.8 987.0L1065.8 987.0L1065.8 996.0L1056.8 996.0ZM1067.4 992.8L1076.4 992.8L1076.4 1001.8L1067.4 1001.8ZM1078.0 997.3L1087.0 997.3L1087.0 1006.3L1078.0 1006.3ZM1088.6 1000.5L1097.6 1000.5L1097.6 1009.5L1088.6 1009.5ZM1099.3 1006.3L1108.3 1006.3L1108.3 1015.3L1099.3 1015.3ZM1109.9 1012.2L1118.9 1012.2L1118.9 1021.2L1109.9 1021.2ZM1120.5 1015.1L1129.5 1015.1L1129.5 1024.1L1120.5 1024.1ZM1131.1 1015.3L1140.1 1015.3L1140.1 1024.3L1131.1 1024.3ZM1141.8 1018.3L1150.8 1018.3L1150.8 1027.3L1141.8 1027.3ZM1152.4 1021.0L1161.4 1021.0L1161.4 1030.0L1152.4 1030.0ZM1163.0 1022.5L1172.0 1022.5L1172.0 1031.5L1163.0 1031.5ZM1173.7 1025.5L1182.7 1025.5L1182.7 1034.5L1173.7 1034.5ZM1184.3 1027.0L1193.3 1027.0L1193.3 1036.0L1184.3 1036.0ZM1194.9 1030.0L1203.9 1030.0L1203.9 1039.0L1194.9 1039.0ZM1205.5 1030.0L1214.5 1030.0L1214.5 1039.0L1205.5 1039.0ZM1220.5 1033.2L1229.5 1033.2L1229.5 1042.2L1220.5 1042.2ZM1234.2 1035.5L1243.2 1035.5L1243.2 1044.5L1234.2 1044.5ZM1242.0 1035.9L1251.0 1035.9L1251.0 1044.9L1242.0 1044.9ZM1266.5 1033.3L1275.5 1033.3L1275.5 1042.3L1266.5 1042.3ZM1291.5 1035.9L1300.5 1035.9L1300.5 1044.9L1291.5 1044.9ZM1311.1 1034.5L1320.1 1034.5L1320.1 1043.5L1311.1 1043.5ZM1332.5 1035.9L1341.5 1035.9L1341.5 1044.9L1332.5 1044.9ZM1357.3 1039.0L1366.3 1039.0L1366.3 1048.0L1357.3 1048.0ZM1373.5 1041.8L1382.5 1041.8L1382.5 1050.8L1373.5 1050.8ZM1390.2 1041.8L1399.2 1041.8L1399.2 1050.8L1390.2 1050.8ZM1401.5 1045.1L1410.5 1045.1L1410.5 1054.1L1401.5 1054.1ZM1414.9 1047.5L1423.9 1047.5L1423.9 1056.5L1414.9 1056.5ZM1439.5 1050.9L1448.5 1050.9L1448.5 1059.9L1439.5 1059.9ZM1472.5 1053.7L1481.5 1053.7L1481.5 1062.7L1472.5 1062.7ZM1497.3 1054.1L1506.3 1054.1L1506.3 1063.1L1497.3 1063.1ZM1508.8 1057.1L1517.8 1057.1L1517.8 1066.1L1508.8 1066.1ZM1517.0 1059.9L1526.0 1059.9L1526.0 1068.9L1517.0 1068.9ZM1530.2 1062.9L1539.2 1062.9L1539.2 1071.9L1530.2 1071.9ZM1558.5 1065.8L1567.5 1065.8L1567.5 1074.8L1558.5 1074.8ZM1607.9 1066.8L1616.9 1066.8L1616.9 1075.8L1607.9 1075.8ZM1657.3 1068.6L1666.3 1068.6L1666.3 1077.6L1657.3 1077.6ZM1714.9 1070.1L1723.9 1070.1L1723.9 1079.1L1714.9 1079.1ZM1764.3 1068.6L1773.3 1068.6L1773.3 1077.6L1764.3 1077.6ZM1808.8 1071.7L1817.8 1071.7L1817.8 1080.7L1808.8 1080.7Z"/>
<path fill="#ff0000" d="M194.5 1068.8L203.0 1070.5L203.0 1079.5L194.5 1077.8ZM203.0 1070.5L209.0 1071.8L209.0 1080.8L203.0 1079.5ZM209.0 1071.8L215.0 1073.0L215.0 1082.0L209.0 1080.8ZM215.0 1073.0L221.0 1073.8L221.0 1082.8L215.0 1082.0ZM221.0 1073.8L227.0 1073.0L227.0 1082.0L221.0 1082.8ZM227.0 1073.0L231.0 1070.9L231.0 1079.9L227.0 1082.0ZM226.5 1075.4L230.5 1071.3L239.5 1071.3L235.5 1075.4ZM235.0 1066.8L240.5 1063.0L240.5 1072.0L235.0 1075.8ZM240.5 1063.0L249.5 1060.1L249.5 1069.1L240.5 1072.0ZM249.5 1060.1L262.7 1057.0L262.7 1066.0L249.5 1069.1ZM262.7 1057.0L273.0 1054.5L273.0 1063.5L262.7 1066.0ZM273.0 1054.5L280.0 1051.5L280.0 1060.5L273.0 1063.5ZM280.0 1051.5L289.0 1047.5L289.0 1056.5L280.0 1060.5ZM289.0 1047.5L305.0 1044.8L305.0 1053.8L289.0 1056.5ZM305.0 1044.8L319.0 1042.0L319.0 1051.0L305.0 1053.8ZM319.0 1042.0L333.0 1039.0L333.0 1048.0L319.0 1051.0ZM333.0 1039.0L347.0 1036.0L347.0 1045.0L333.0 1048.0ZM347.0 1036.0L357.0 1033.0L357.0 1042.0L347.0 1045.0ZM357.0 1033.0L377.0 1030.1L377.0 1039.1L357.0 1042.0ZM377.0 1030.1L398.0 1033.0L398.0 1042.0L377.0 1039.1ZM398.0 1033.0L414.5 1035.9L414.5 1044.9L398.0 1042.0ZM414.5 1035.9L431.0 1038.9L431.0 1047.9L414.5 1044.9ZM431.0 1038.9L448.0 1041.9L448.0 1050.9L431.0 1047.9ZM448.0 1041.9L462.0 1043.5L462.0 1052.5L448.0 1050.9ZM462.0 1043.5L468.0 1044.9L468.0 1053.9L462.0 1052.5ZM468.0 1044.9L478.0 1047.9L478.0 1056.9L468.0 1053.9ZM478.0 1047.9L487.0 1049.5L487.0 1058.5L478.0 1056.9ZM487.0 1049.5L505.0 1050.9L505.0 1059.9L487.0 1058.5ZM505.0 1050.9L525.0 1052.0L525.0 1061.0L505.0 1059.9ZM525.0 1052.0L531.0 1049.0L531.0 1058.0L525.0 1061.0ZM531.0 1049.0L541.0 1047.9L541.0 1056.9L531.0 1058.0ZM541.0 1047.9L552.0 1045.5L552.0 1054.5L541.0 1056.9ZM552.0 1045.5L560.0 1041.8L560.0 1050.8L552.0 1054.5ZM560.0 1041.8L566.0 1039.0L566.0 1048.0L560.0 1050.8ZM566.0 1039.0L574.0 1036.0L574.0 1045.0L566.0 1048.0ZM574.0 1036.0L580.0 1033.0L580.0 1042.0L574.0 1045.0ZM580.0 1033.0L588.0 1030.3L588.0 1039.3L580.0 1042.0ZM588.0 1030.3L600.8 1022.1L600.8 1031.1L588.0 1039.3ZM600.8 1022.1L613.5 1015.7L613.5 1024.7L600.8 1031.1ZM613.5 1015.7L626.3 1009.5L626.3 1018.5L613.5 1024.7ZM626.3 1009.5L639.0 1004.6L639.0 1013.6L626.3 1018.5ZM639.0 1004.6L651.8 998.9L651.8 1007.9L639.0 1013.6ZM651.8 998.9L664.6 1000.1L664.6 1009.1L651.8 1007.9ZM664.6 1000.1L677.3 998.9L677.3 1007.9L664.6 1009.1ZM677.3 998.9L698.8 1000.8L698.8 1009.8L677.3 1007.9ZM698.8 1000.8L717.4 1005.8L717.4 1014.8L698.8 1009.8ZM717.4 1005.8L736.0 1017.0L736.0 1026.0L717.4 1014.8ZM736.0 1017.0L754.6 1023.5L754.6 1032.5L736.0 1026.0ZM754.6 1023.5L773.2 1028.7L773.2 1037.7L754.6 1032.5ZM773.2 1028.7L791.8 1034.7L791.8 1043.7L773.2 1037.7ZM791.8 1034.7L810.4 1040.2L810.4 1049.2L791.8 1043.7ZM810.4 1040.2L829.0 1049.5L829.0 1058.5L810.4 1049.2ZM829.0 1049.5L847.6 1055.7L847.6 1064.7L829.0 1058.5ZM847.6 1055.7L866.2 1064.1L866.2 1073.1L847.6 1064.7ZM866.2 1064.1L880.0 1072.1L880.0 1081.1L866.2 1073.1ZM880.0 1072.1L899.1 1079.8L899.1 1088.8L880.0 1081.1ZM899.1 1079.8L918.3 1089.0L918.3 1098.0L899.1 1088.8ZM918.3 1089.0L937.4 1098.5L937.4 1107.5L918.3 1098.0ZM937.4 1098.5L956.5 1101.4L956.5 1110.4L937.4 1107.5ZM956.5 1101.4L975.6 1105.2L975.6 1114.2L956.5 1110.4ZM975.6 1105.2L994.8 1113.8L994.8 1122.8L975.6 1114.2ZM994.8 1113.8L1013.9 1118.6L1013.9 1127.6L994.8 1122.8ZM1013.9 1118.6L1033.0 1125.3L1033.0 1134.3L1013.9 1127.6ZM1033.0 1125.3L1052.2 1134.9L1052.2 1143.9L1033.0 1134.3ZM1052.2 1134.9L1071.3 1140.6L1071.3 1149.6L1052.2 1143.9ZM1071.3 1140.6L1090.4 1145.8L1090.4 1154.8L1071.3 1149.6ZM1090.4 1145.8L1109.5 1152.1L1109.5 1161.1L1090.4 1154.8ZM1109.5 1152.1L1128.7 1156.9L1128.7 1165.9L1109.5 1161.1ZM1128.7 1156.9L1147.8 1162.6L1147.8 1171.6L1128.7 1165.9ZM1147.8 1162.6L1166.9 1169.7L1166.9 1178.7L1147.8 1171.6ZM1166.9 1169.7L1186.0 1176.0L1186.0 1185.0L1166.9 1178.7ZM1186.0 1176.0L1205.2 1176.0L1205.2 1185.0L1186.0 1185.0ZM1205.2 1176.0L1224.3 1178.9L1224.3 1187.9L1205.2 1185.0ZM1224.3 1178.9L1263.0 1178.7L1263.0 1187.7L1224.3 1187.9ZM1263.0 1178.7L1312.4 1178.5L1312.4 1187.5L1263.0 1187.7ZM1312.4 1178.5L1345.3 1181.7L1345.3 1190.7L1312.4 1187.5ZM1345.3 1181.7L1375.0 1184.5L1375.0 1193.5L1345.3 1190.7ZM1375.0 1184.5L1394.7 1187.6L1394.7 1196.6L1375.0 1193.5ZM1394.7 1187.6L1411.2 1190.7L1411.2 1199.7L1394.7 1196.6ZM1411.2 1190.7L1427.7 1193.7L1427.7 1202.7L1411.2 1199.7ZM1427.7 1193.7L1449.0 1196.7L1449.0 1205.7L1427.7 1202.7ZM1449.0 1196.7L1468.8 1193.7L1468.8 1202.7L1449.0 1205.7ZM1468.8 1193.7L1485.3 1193.7L1485.3 1202.7L1468.8 1202.7ZM1485.3 1193.7L1501.8 1196.7L1501.8 1205.7L1485.3 1202.7ZM1501.8 1196.7L1513.3 1199.5L1513.3 1208.5L1501.8 1205.7ZM1513.3 1199.5L1526.5 1202.5L1526.5 1211.5L1513.3 1208.5ZM1526.5 1202.5L1538.0 1205.6L1538.0 1214.6L1526.5 1211.5ZM1538.0 1205.6L1563.0 1208.4L1563.0 1217.4L1538.0 1214.6ZM1563.0 1208.4L1592.6 1205.6L1592.6 1214.6L1563.0 1217.4ZM1592.6 1205.6L1615.7 1208.4L1615.7 1217.4L1592.6 1214.6ZM1615.7 1208.4L1637.0 1211.4L1637.0 1220.4L1615.7 1217.4ZM1637.0 1211.4L1653.5 1214.5L1653.5 1223.5L1637.0 1220.4ZM1653.5 1214.5L1670.0 1217.3L1670.0 1226.3L1653.5 1223.5ZM1670.0 1217.3L1686.5 1214.5L1686.5 1223.5L1670.0 1226.3ZM1686.5 1214.5L1703.0 1211.4L1703.0 1220.4L1686.5 1223.5ZM1703.0 1211.4L1719.4 1214.5L1719.4 1223.5L1703.0 1220.4ZM1719.4 1214.5L1744.0 1214.5L1744.0 1223.5L1719.4 1223.5ZM1744.0 1214.5L1777.0 1217.3L1777.0 1226.3L1744.0 1223.5ZM1777.0 1217.3L1829.0 1217.3L1829.0 1226.3L1777.0 1226.3ZM198.5 1070.5L207.5 1070.5L207.5 1079.5L198.5 1079.5ZM204.5 1071.8L213.5 1071.8L213.5 1080.8L204.5 1080.8ZM210.5 1073.0L219.5 1073.0L219.5 1082.0L210.5 1082.0ZM216.5 1073.8L225.5 1073.8L225.5 1082.8L216.5 1082.8ZM222.5 1073.0L231.5 1073.0L231.5 1082.0L222.5 1082.0ZM226.5 1070.9L235.5 1070.9L235.5 1079.9L226.5 1079.9ZM230.5 1066.8L239.5 1066.8L239.5 1075.8L230.5 1075.8ZM236.0 1063.0L245.0 1063.0L245.0 1072.0L236.0 1072.0ZM245.0 1060.1L254.0 1060.1L254.0 1069.1L245.0 1069.1ZM258.2 1057.0L267.2 1057.0L267.2 1066.0L258.2 1066.0ZM268.5 1054.5L277.5 1054.5L277.5 1063.5L268.5 1063.5ZM275.5 1051.5L284.5 1051.5L284.5 1060.5L275.5 1060.5ZM284.5 1047.5L293.5 1047.5L293.5 1056.5L284.5 1056.5ZM300.5 1044.8L309.5 1044.8L309.5 1053.8L300.5 1053.8ZM314.5 1042.0L323.5 1042.0L323.5 1051.0L314.5 1051.0ZM328.5 1039.0L337.5 1039.0L337.5 1048.0L328.5 1048.0ZM342.5 1036.0L351.5 1036.0L351.5 1045.0L342.5 1045.0ZM352.5 1033.0L361.5 1033.0L361.5 1042.0L352.5 1042.0ZM372.5 1030.1L381.5 1030.1L381.5 1039.1L372.5 1039.1ZM393.5 1033.0L402.5 1033.0L402.5 1042.0L393.5 1042.0ZM410.0 1035.9L419.0 1035.9L419.0 1044.9L410.0 1044.9ZM426.5 1038.9L435.5 1038.9L435.5 1047.9L426.5 1047.9ZM443.5 1041.9L452.5 1041.9L452.5 1050.9L443.5 1050.9ZM457.5 1043.5L466.5 1043.5L466.5 1052.5L457.5 1052.5ZM463.5 1044.9L472.5 1044.9L472.5 1053.9L463.5 1053.9ZM473.5 1047.9L482.5 1047.9L482.5 1056.9L473.5 1056.9ZM482.5 1049.5L491.5 1049.5L491.5 1058.5L482.5 1058.5ZM500.5 1050.9L509.5 1050.9L509.5 1059.9L500.5 1059.9ZM520.5 1052.0L529.5 1052.0L529.5 1061.0L520.5 1061.0ZM526.5 1049.0L535.5 1049.0L535.5 1058.0L526.5 1058.0ZM536.5 1047.9L545.5 1047.9L545.5 1056.9L536.5 1056.9ZM547.5 1045.5L556.5 1045.5L556.5 1054.5L547.5 1054.5ZM555.5 1041.8L564.5 1041.8L564.5 1050.8L555.5 1050.8ZM561.5 1039.0L570.5 1039.0L570.5 1048.0L561.5 1048.0ZM569.5 1036.0L578.5 1036.0L578.5 1045.0L569.5 1045.0ZM575.5 1033.0L584.5 1033.0L584.5 1042.0L575.5 1042.0ZM583.5 1030.3L592.5 1030.3L592.5 1039.3L583.5 1039.3ZM596.3 1022.1L605.3 1022.1L605.3 1031.1L596.3 1031.1ZM609.0 1015.7L618.0 1015.7L618.0 1024.7L609.0 1024.7ZM621.8 1009.5L630.8 1009.5L630.8 1018.5L621.8 1018.5ZM634.5 1004.6L643.5 1004.6L643.5 1013.6L634.5 1013.6ZM647.3 998.9L656.3 998.9L656.3 1007.9L647.3 1007.9ZM660.1 1000.1L669.1 1000.1L669.1 1009.1L660.1 1009.1ZM672.8 998.9L681.8 998.9L681.8 1007.9L672.8 1007.9ZM694.3 1000.8L703.3 1000.8L703.3 1009.8L694.3 1009.8ZM712.9 1005.8L721.9 1005.8L721.9 1014.8L712.9 1014.8ZM731.5 1017.0L740.5 1017.0L740.5 1026.0L731.5 1026.0ZM750.1 1023.5L759.1 1023.5L759.1 1032.5L750.1 1032.5ZM768.7 1028.7L777.7 1028.7L777.7 1037.7L768.7 1037.7ZM787.3 1034.7L796.3 1034.7L796.3 1043.7L787.3 1043.7ZM805.9 1040.2L814.9 1040.2L814.9 1049.2L805.9 1049.2ZM824.5 1049.5L833.5 1049.5L833.5 1058.5L824.5 1058.5ZM843.1 1055.7L852.1 1055.7L852.1 1064.7L843.1 1064.7ZM861.7 1064.1L870.7 1064.1L870.7 1073.1L861.7 1073.1ZM875.5 1072.1L884.5 1072.1L884.5 1081.1L875.5 1081.1ZM894.6 1079.8L903.6 1079.8L903.6 1088.8L894.6 1088.8ZM913.8 1089.0L922.8 1089.0L922.8 1098.0L913.8 1098.0ZM932.9 1098.5L941.9 1098.5L941.9 1107.5L932.9 1107.5ZM952.0 1101.4L961.0 1101.4L961.0 1110.4L952.0 1110.4ZM971.1 1105.2L980.1 1105.2L980.1 1114.2L971.1 1114.2ZM990.3 1113.8L999.3 1113.8L999.3 1122.8L990.3 1122.8ZM1009.4 1118.6L1018.4 1118.6L1018.4 1127.6L1009.4 1127.6ZM1028.5 1125.3L1037.5 1125.3L1037.5 1134.3L1028.5 1134.3ZM1047.7 1134.9L1056.7 1134.9L1056.7 1143.9L1047.7 1143.9ZM1066.8 1140.6L1075.8 1140.6L1075.8 1149.6L1066.8 1149.6ZM1085.9 1145.8L1094.9 1145.8L1094.9 1154.8L1085.9 1154.8ZM1105.0 1152.1L1114.0 1152.1L1114.0 1161.1L1105.0 1161.1ZM1124.2 1156.9L1133.2 1156.9L1133.2 1165.9L1124.2 1165.9ZM1143.3 1162.6L1152.3 1162.6L1152.3 1171.6L1143.3 1171.6ZM1162.4 1169.7L1171.4 1169.7L1171.4 1178.7L1162.4 1178.7ZM1181.5 1176.0L1190.5 1176.0L1190.5 1185.0L1181.5 1185.0ZM1200.7 1176.0L1209.7 1176.0L1209.7 1185.0L1200.7 1185.0ZM1219.8 1178.9L1228.8 1178.9L1228.8 1187.9L1219.8 1187.9ZM1258.5 1178.7L1267.5 1178.7L1267.5 1187.7L1258.5 1187.7ZM1307.9 1178.5L1316.9 1178.5L1316.9 1187.5L1307.9 1187.5ZM1340.8 1181.7L1349.8 1181.7L1349.8 1190.7L1340.8 1190.7ZM1370.5 1184.5L1379.5 1184.5L1379.5 1193.5L1370.5 1193.5ZM1390.2 1187.6L1399.2 1187.6L1399.2 1196.6L1390.2 1196.6ZM1406.7 1190.7L1415.7 1190.7L1415.7 1199.7L1406.7 1199.7ZM1423.2 1193.7L1432.2 1193.7L1432.2 1202.7L1423.2 1202.7ZM1444.5 1196.7L1453.5 1196.7L1453.5 1205.7L1444.5 1205.7ZM1464.3 1193.7L1473.3 1193.7L1473.3 1202.7L1464.3 1202.7ZM1480.8 1193.7L1489.8 1193.7L1489.8 1202.7L1480.8 1202.7ZM1497.3 1196.7L1506.3 1196.7L1506.3 1205.7L1497.3 1205.7ZM1508.8 1199.5L1517.8 1199.5L1517.8 1208.5L1508.8 1208.5ZM1522.0 1202.5L1531.0 1202.5L1531.0 1211.5L1522.0 1211.5ZM1533.5 1205.6L1542.5 1205.6L1542.5 1214.6L1533.5 1214.6ZM1558.5 1208.4L1567.5 1208.4L1567.5 1217.4L1558.5 1217.4ZM1588.1 1205.6L1597.1 1205.6L1597.1 1214.6L1588.1 1214.6ZM1611.2 1208.4L1620.2 1208.4L1620.2 1217.4L1611.2 1217.4ZM1632.5 1211.4L1641.5 1211.4L1641.5 1220.4L1632.5 1220.4ZM1649.0 1214.5L1658.0 1214.5L1658.0 1223.5L1649.0 1223.5ZM1665.5 1217.3L1674.5 1217.3L1674.5 1226.3L1665.5 1226.3ZM1682.0 1214.5L1691.0 1214.5L1691.0 1223.5L1682.0 1223.5ZM1698.5 1211.4L1707.5 1211.4L1707.5 1220.4L1698.5 1220.4ZM1714.9 1214.5L1723.9 1214.5L1723.9 1223.5L1714.9 1223.5ZM1739.5 1214.5L1748.5 1214.5L1748.5 1223.5L1739.5 1223.5ZM1772.5 1217.3L1781.5 1217.3L1781.5 1226.3L1772.5 1226.3Z"/>
<rect x="1279.1" y="747.5" width="9" height="17.9" fill="#0000ff"/>
<rect x="1282.1" y="744.5" width="3" height="23.9" fill="#0000ff"/>
<rect x="1279.1" y="786.2" width="9" height="14.3" fill="#0000ff"/>
<rect x="1282.1" y="783.2" width="3" height="20.3" fill="#0000ff"/>
<rect x="1279.1" y="822.0" width="9" height="17.7" fill="#0000ff"/>
<rect x="1282.1" y="819.0" width="3" height="23.7" fill="#0000ff"/>
<rect x="1279.1" y="860.6" width="9" height="17.8" fill="#0000ff"/>
<rect x="1282.1" y="857.6" width="3" height="23.8" fill="#0000ff"/>
<rect x="720.2" y="786.4" width="9" height="17.5" fill="#000"/>
<rect x="723.2" y="783.4" width="3" height="23.5" fill="#000"/>
<rect x="720.2" y="825.0" width="9" height="17.0" fill="#000"/>
<rect x="723.2" y="822.0" width="3" height="23.0" fill="#000"/>
<rect x="720.2" y="861.3" width="9" height="17.4" fill="#000"/>
<rect x="723.2" y="858.3" width="3" height="23.4" fill="#000"/>
<rect x="720.2" y="899.3" width="9" height="18.0" fill="#000"/>
<rect x="723.2" y="896.3" width="3" height="24.0" fill="#000"/>
<rect x="675.7" y="973.9" width="9" height="17.3" fill="#ff0000"/>
<rect x="678.7" y="970.9" width="3" height="23.3" fill="#ff0000"/>
<rect x="675.7" y="1011.0" width="9" height="17.0" fill="#ff0000"/>
<rect x="678.7" y="1008.0" width="3" height="23.0" fill="#ff0000"/>
<rect x="675.7" y="1048.3" width="9" height="17.3" fill="#ff0000"/>
<rect x="678.7" y="1045.3" width="3" height="23.3" fill="#ff0000"/>
<g fill="#000">
<rect x="194" y="28" width="1635" height="9"/>
<rect x="191" y="31" width="9" height="1216"/>
<rect x="1823" y="31" width="9" height="1219"/>
<rect x="194" y="1241" width="1635" height="9"/>
<rect x="253.6" y="1250" width="9" height="21"/><rect x="256.6" y="1270" width="3" height="4"/><rect x="410.6" y="1250" width="9" height="21"/><rect x="413.6" y="1270" width="3" height="4"/><rect x="567.5" y="1250" width="9" height="21"/><rect x="570.5" y="1270" width="3" height="4"/><rect x="724.5" y="1250" width="9" height="21"/><rect x="727.5" y="1270" width="3" height="4"/><rect x="881.4" y="1250" width="9" height="21"/><rect x="884.4" y="1270" width="3" height="4"/><rect x="1038.3" y="1250" width="9" height="21"/><rect x="1041.3" y="1270" width="3" height="4"/><rect x="1195.3" y="1250" width="9" height="21"/><rect x="1198.3" y="1270" width="3" height="4"/><rect x="1352.2" y="1250" width="9" height="21"/><rect x="1355.2" y="1270" width="3" height="4"/><rect x="1509.2" y="1250" width="9" height="21"/><rect x="1512.2" y="1270" width="3" height="4"/><rect x="1666.2" y="1250" width="9" height="21"/><rect x="1669.2" y="1270" width="3" height="4"/><rect x="1823.1" y="1250" width="9" height="21"/><rect x="1826.1" y="1270" width="3" height="4"/><rect x="332.1" y="1250" width="9" height="9"/><rect x="335.1" y="1258" width="3" height="4"/><rect x="489.0" y="1250" width="9" height="9"/><rect x="492.0" y="1258" width="3" height="4"/><rect x="646.0" y="1250" width="9" height="9"/><rect x="649.0" y="1258" width="3" height="4"/><rect x="802.9" y="1250" width="9" height="9"/><rect x="805.9" y="1258" width="3" height="4"/><rect x="959.9" y="1250" width="9" height="9"/><rect x="962.9" y="1258" width="3" height="4"/><rect x="1116.8" y="1250" width="9" height="9"/><rect x="1119.8" y="1258" width="3" height="4"/><rect x="1273.8" y="1250" width="9" height="9"/><rect x="1276.8" y="1258" width="3" height="4"/><rect x="1430.7" y="1250" width="9" height="9"/><rect x="1433.7" y="1258" width="3" height="4"/><rect x="1587.7" y="1250" width="9" height="9"/><rect x="1590.7" y="1258" width="3" height="4"/><rect x="1744.6" y="1250" width="9" height="9"/><rect x="1747.6" y="1258" width="3" height="4"/></g>
<text transform="translate(207.14,1359.31) scale(1.0658,0.9950)" font-size="89" font-weight="bold" fill="#000">10</text>
<text transform="translate(362.34,1359.31) scale(1.0937,0.9950)" font-size="89" font-weight="bold" fill="#000">15</text>
<text transform="translate(521.23,1359.31) scale(1.0683,0.9950)" font-size="89" font-weight="bold" fill="#000">20</text>
<text transform="translate(679.55,1359.31) scale(1.0622,0.9950)" font-size="89" font-weight="bold" fill="#000">25</text>
<text transform="translate(834.63,1359.31) scale(1.0566,0.9950)" font-size="89" font-weight="bold" fill="#000">30</text>
<text transform="translate(992.43,1359.31) scale(1.0566,0.9950)" font-size="89" font-weight="bold" fill="#000">35</text>
<text transform="translate(1150.75,1359.31) scale(1.0494,0.9950)" font-size="89" font-weight="bold" fill="#000">40</text>
<text transform="translate(1308.95,1359.29) scale(1.0506,1.0119)" font-size="89" font-weight="bold" fill="#000">45</text>
<text transform="translate(1462.07,1359.31) scale(1.0573,0.9950)" font-size="89" font-weight="bold" fill="#000">50</text>
<text transform="translate(1618.82,1359.29) scale(1.0695,1.0119)" font-size="89" font-weight="bold" fill="#000">55</text>
<text transform="translate(1776.07,1359.31) scale(1.0759,0.9950)" font-size="89" font-weight="bold" fill="#000">60</text>
<text transform="translate(865.78,1475.80) scale(1.0541,0.9983)" font-size="89" font-weight="bold" fill="#000">2</text>
<text transform="translate(913.83,1474.82) scale(1.3677,0.9789)" font-size="80" font-weight="normal" fill="#000">θ</text>
<text transform="translate(984.82,1476.50) scale(1.1117,1.0293)" font-size="85" font-weight="normal" fill="#000">(</text>
<text transform="translate(1015.60,1488.16) scale(1.0000,1.0600)" font-size="100" font-weight="normal" fill="#000">°</text>
<text transform="translate(1054.39,1475.95) scale(1.0828,1.0026)" font-size="85" font-weight="normal" fill="#000">)</text>
<text transform="translate(1066.44,303.72) scale(0.9805,0.9796)" font-size="72" font-weight="bold" fill="#000">IGGO</text>
<text transform="translate(1068.69,386.53) scale(0.9570,0.9694)" font-size="72" font-weight="bold" fill="#000">rGOA</text>
<text transform="translate(1063.79,472.30) scale(1.1865,0.9000)" font-size="72" font-weight="normal" font-style="italic" fill="#000">β</text>
<text transform="translate(1098.40,470.01) scale(0.9664,0.9898)" font-size="72" font-weight="bold" fill="#000">-CD-rGOA-0.5</text>
<text transform="translate(345.79,96.00) scale(1.0523,0.9959)" font-size="70" font-weight="bold" fill="#000">11.6 °</text>
<text transform="translate(737.96,835.49) scale(1.0472,1.0149)" font-size="70" font-weight="bold" fill="#000">24.9°</text>
<text transform="translate(1295.69,775.99) scale(1.0144,1.0064)" font-size="70" font-weight="bold" fill="#0000ff">42.7°</text>
<text transform="translate(712.42,987.59) scale(1.0271,1.0085)" font-size="70" font-weight="bold" fill="#ff0000">23.4°</text>
<text transform="translate(93.50,878.32) rotate(-90) scale(1.0051)" font-size="96" font-weight="bold" fill="#000">Intensity <tspan font-weight="normal" font-size="88">(</tspan>a.u.<tspan font-weight="normal" font-size="88">)</tspan></text>
<rect x="905" y="281" width="130.6" height="9" fill="#0000ff"/><rect x="902" y="284" width="136.6" height="3" fill="#0000ff"/><rect x="905" y="364" width="130.6" height="9" fill="#000"/><rect x="902" y="367" width="136.6" height="3" fill="#000"/><rect x="905" y="450.5" width="130.6" height="9" fill="#ff0000"/><rect x="902" y="453.5" width="136.6" height="3" fill="#ff0000"/>
</svg>
</body></html>
